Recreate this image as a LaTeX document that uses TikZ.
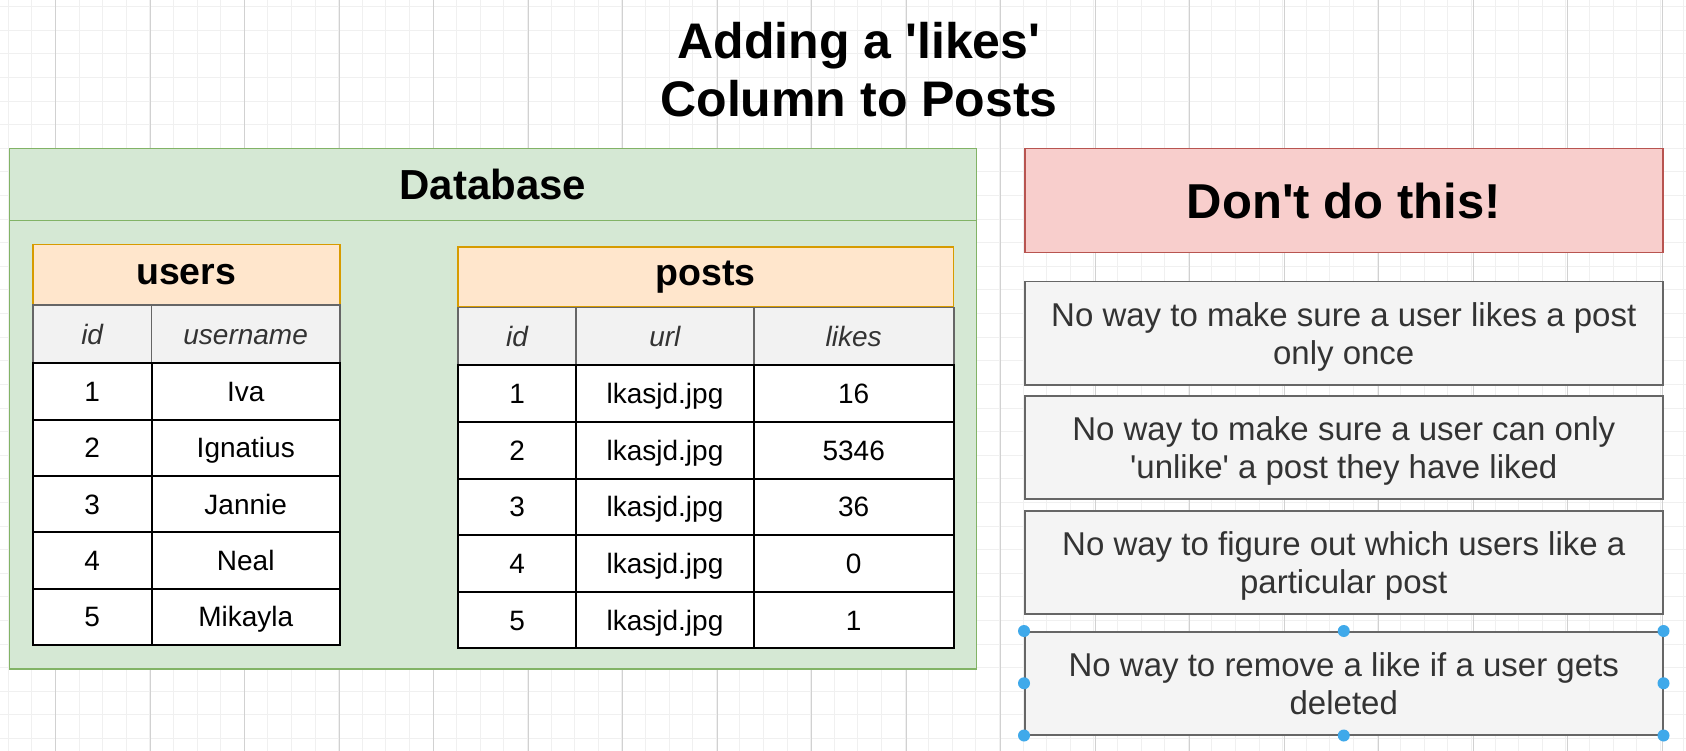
\documentclass[tikz,border=0pt]{standalone}
\usepackage{fontspec}
\setmainfont{Liberation Sans}
\definecolor{dbfill}{HTML}{D5E8D4}
\definecolor{dbline}{HTML}{82B366}
\definecolor{tabfill}{HTML}{FFE6CC}
\definecolor{tabline}{HTML}{D79B00}
\definecolor{badfill}{HTML}{F8CECC}
\definecolor{badline}{HTML}{B85450}
\definecolor{notefill}{HTML}{F4F4F4}
\definecolor{noteline}{HTML}{666666}
\definecolor{notetext}{HTML}{333333}
\definecolor{colfill}{HTML}{F2F2F2}
\definecolor{handle}{HTML}{3FA9EA}
\tikzset{
  box/.style={rectangle, anchor=north west, inner sep=0pt},
  dbbox/.style={box, draw=dbline, fill=dbfill, line width=1.5pt},
  tabhead/.style={box, draw=tabline, fill=tabfill, line width=1.5pt, minimum height=60,
    font=\fontsize{37.5}{40}\selectfont\bfseries},
  colhead/.style={box, draw=noteline, fill=colfill, line width=1.8pt, minimum height=58,
    text=notetext, text height=20pt, text depth=0pt, font=\fontsize{28}{30}\selectfont\itshape},
  cell/.style={box, draw=black, fill=white, line width=2pt, text height=20pt, text depth=0pt,
    font=\fontsize{28}{30}\selectfont},
  notebox/.style={box, align=center, draw=noteline, fill=notefill, line width=1.5pt, minimum width=638,
    minimum height=103, text=notetext, text depth=-6.5pt,
    font=\fontsize{33}{38}\selectfont},
  dot/.style={circle, fill=handle, inner sep=0pt, minimum size=12}
}
\begin{document}
\begin{tikzpicture}[x=1pt,y=-1pt]
\useasboundingbox (0,0) rectangle (1686,751);
% Background grid
\fill[white] (0,0) rectangle (1686,751);
\foreach \gx in {8.2,31.8,...,1686}
  \draw[black!6, line width=0.8pt] (\gx,0) -- (\gx,751);
\foreach \gy in {6.7,30.3,...,751}
  \draw[black!6, line width=0.8pt] (0,\gy) -- (1686,\gy);
\foreach \gx in {55.4,149.9,...,1686}
  \draw[black!18, line width=0.8pt] (\gx,0) -- (\gx,751);
% Title
\node[align=center, font=\fontsize{50}{58}\selectfont\bfseries] (title) at (859,70)
  {Adding a \textquotesingle likes\textquotesingle\\Column to Posts};
% Database
\node[dbbox, minimum width=967, minimum height=72] (dbhead) at (8.6,148)
  {\fontsize{42}{46}\selectfont\bfseries Database};
\node[dbbox, minimum width=967, minimum height=448] (dbbody) at (8.6,220) {};
% users table
\node[tabhead, minimum width=307] (users) at (32,244) {users};
\node[colhead, minimum width=118.5] (uidh) at (32,304.3) {id};
\node[colhead, minimum width=188.5] (unameh) at (150.5,304.3) {username};
\foreach \i/\n in {1/Iva,2/Ignatius,3/Jannie,4/Neal,5/Mikayla}{
  \node[cell, minimum width=118.5, minimum height=56.3] (uid\i) at (32,306+56.35*\i) {\i};
  \node[cell, minimum width=188.5, minimum height=56.3] (uname\i) at (150.5,306+56.35*\i) {\n};
}
% posts table
\node[tabhead, minimum width=495.7] (posts) at (457,246.2) {posts};
\node[colhead, minimum width=118.3] (pidh) at (457,306.5) {id};
\node[colhead, minimum width=177.4] (purlh) at (575.3,306.5) {url};
\node[colhead, minimum width=200] (plikesh) at (752.7,306.5) {likes};
\foreach \i/\k in {1/16,2/5346,3/36,4/0,5/1}{
  \node[cell, minimum width=118.3, minimum height=56.6] (pid\i) at (457,307.9+56.56*\i) {\i};
  \node[cell, minimum width=177.4, minimum height=56.6] (purl\i) at (575.3,307.9+56.56*\i) {lkasjd.jpg};
  \node[cell, minimum width=200, minimum height=56.6] (plikes\i) at (752.7,307.9+56.56*\i) {\k};
}
% Warning and notes
\node[box, draw=badline, fill=badfill, line width=1.5pt, minimum width=638, minimum height=104,
  font=\fontsize{49}{52}\selectfont\bfseries] (dont) at (1024,148) {Don\textquotesingle t do this!};
\node[notebox] (note1) at (1024,281) {No way to make sure a user likes a post\\only once};
\node[notebox] (note2) at (1024,395) {No way to make sure a user can only\\\textquotesingle unlike\textquotesingle{} a post they have liked};
\node[notebox] (note3) at (1024,510) {No way to figure out which users like a\\particular post};
\node[notebox] (note4) at (1024,631) {No way to remove a like if a user gets\\deleted};
% Selection handles
\foreach \a in {north west,north,north east,east,south east,south,south west,west}
  \node[dot] (h-\a) at (note4.\a) {};
\end{tikzpicture}
\end{document}
